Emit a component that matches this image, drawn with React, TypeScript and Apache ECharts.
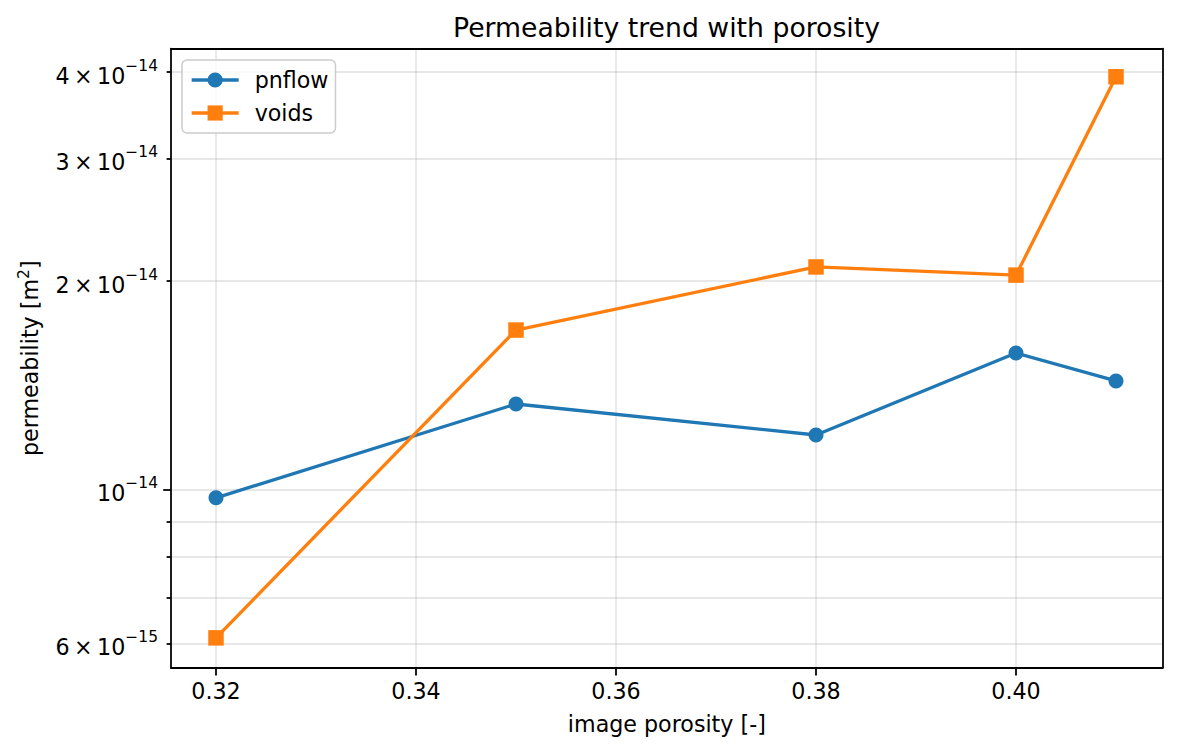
import React, { useEffect, useRef } from "react";
import * as echarts from "echarts";

// ---- data (permeability in m², porosity in [-]) ----
const porosity = [0.32, 0.35, 0.38, 0.4, 0.41];
const pnflow = [9.74e-15, 1.33e-14, 1.2e-14, 1.575e-14, 1.436e-14];
const voids = [6.12e-15, 1.7e-14, 2.096e-14, 2.04e-14, 3.94e-14];

const seriesNames = ["pnflow", "voids"];
const xTicks = [0.32, 0.34, 0.36, 0.38, 0.4];
const yLabelTicks = [6e-15, 1e-14, 2e-14, 3e-14, 4e-14];
const yMajorTicks = [1e-14];
const yMinorTicks = [6e-15, 7e-15, 8e-15, 9e-15, 2e-14, 3e-14, 4e-14];

const titleText = "Permeability trend with porosity";
const xName = "image porosity [-]";

const X_MIN = 0.3155;
const X_MAX = 0.41467;
const Y_MIN = 5.543e-15;
const Y_MAX = 4.325e-14;
const SCALE = 1e-14; // axis works in units of 1e-14 m²

const FONT = "DejaVu Sans";
const FS = 22.2;
const FS_SUP = 15.5;

const s = (v: number) => v / SCALE;

function sciLabel(v: number): string {
  const real = v * SCALE;
  const exp = Math.floor(Math.log10(real) + 1e-9);
  const mant = Math.round(real / Math.pow(10, exp));
  const expStr = "\u2212" + String(-exp);
  if (mant === 1) return `{n|10}{s|${expStr}}`;
  return `{n|${mant}\u2009\u00d7\u200910}{s|${expStr}}`;
}

const richSci = {
  n: { fontSize: FS, fontFamily: FONT, color: "#000", lineHeight: 29, verticalAlign: "bottom" },
  s: { fontSize: FS_SUP, fontFamily: FONT, color: "#000", lineHeight: 16, verticalAlign: "top" },
};

export default function App() {
  const ref = useRef<HTMLDivElement>(null);

  useEffect(() => {
    if (!ref.current) return;
    const chart = echarts.init(ref.current, undefined, { renderer: "svg" });
    const axisLineStyle = { color: "#000", width: 1.78 };
    const gridLine = { show: true, lineStyle: { color: "rgba(176,176,176,0.3)", width: 1.78 } };

    chart.setOption({
      animation: false,
      backgroundColor: "#fff",
      title: {
        text: titleText,
        left: 661.5,
        top: 9,
        textAlign: "center",
        textStyle: { fontFamily: FONT, fontSize: 26.7, fontWeight: "normal", color: "#000" },
      },
      legend: {
        orient: "vertical",
        left: 182,
        top: 60,
        padding: [8, 7, 8, 8],
        itemGap: 9,
        itemWidth: 47,
        itemHeight: 19,
        borderColor: "#cccccc",
        borderWidth: 1.5,
        borderRadius: 5,
        backgroundColor: "rgba(255,255,255,0.8)",
        lineStyle: { width: 3.3 },
        textStyle: { fontFamily: FONT, fontSize: FS, color: "#000", lineHeight: 24, padding: [0, 0, 0, 11] },
        data: seriesNames,
      },
      grid: { left: 171, right: 15.3, top: 48.7, bottom: 86.3, containLabel: false },
      xAxis: [
        {
          type: "value",
          min: X_MIN,
          max: X_MAX,
          name: xName,
          nameLocation: "middle",
          nameGap: 45,
          nameTextStyle: { fontFamily: FONT, fontSize: FS, color: "#000" },
          axisLine: { show: true, lineStyle: axisLineStyle },
          axisTick: { show: true, customValues: xTicks, length: 7.8, lineStyle: axisLineStyle },
          axisLabel: {
            customValues: xTicks,
            margin: 12,
            fontFamily: FONT,
            fontSize: FS,
            color: "#000",
            formatter: (v: number) => v.toFixed(2),
          },
          splitLine: gridLine,
        },
        {
          type: "value",
          position: "top",
          min: X_MIN,
          max: X_MAX,
          axisLine: { show: true, lineStyle: axisLineStyle },
          axisTick: { show: false },
          axisLabel: { show: false },
          splitLine: { show: false },
        },
      ],
      yAxis: [
        {
          type: "log",
          logBase: 10,
          position: "left",
          min: s(Y_MIN),
          max: s(Y_MAX),
          name: "permeability [m{sup|2}]",
          nameLocation: "middle",
          nameGap: 122,
          nameTextStyle: {
            fontFamily: FONT,
            fontSize: FS,
            color: "#000",
            rich: {
              sup: { fontFamily: FONT, fontSize: FS_SUP, color: "#000", verticalAlign: "top", lineHeight: 16 },
            },
            lineHeight: 29,
            verticalAlign: "bottom",
          },
          axisLine: { show: true, lineStyle: axisLineStyle },
          axisTick: { show: true, customValues: yMajorTicks.map(s), length: 7.8, lineStyle: axisLineStyle },
          axisLabel: {
            customValues: yLabelTicks.map(s),
            margin: 13,
            formatter: (v: number) => sciLabel(v),
            rich: richSci,
          },
          splitLine: gridLine,
        },
        {
          type: "log",
          logBase: 10,
          position: "left",
          min: s(Y_MIN),
          max: s(Y_MAX),
          axisLine: { show: false },
          axisTick: { show: true, customValues: yMinorTicks.map(s), length: 4.4, lineStyle: axisLineStyle },
          axisLabel: { show: false },
          splitLine: gridLine,
        },
        {
          type: "log",
          logBase: 10,
          position: "right",
          min: s(Y_MIN),
          max: s(Y_MAX),
          axisLine: { show: true, lineStyle: axisLineStyle },
          axisTick: { show: false },
          axisLabel: { show: false },
          splitLine: { show: false },
        },
      ],
      series: [
        {
          name: seriesNames[0],
          type: "line",
          xAxisIndex: 0,
          yAxisIndex: 0,
          data: porosity.map((x, i) => [x, s(pnflow[i])]),
          symbol: "circle",
          symbolSize: 15,
          color: "#1f77b4",
          lineStyle: { width: 3.3, color: "#1f77b4" },
          itemStyle: { color: "#1f77b4" },
          z: 3,
        },
        {
          name: seriesNames[1],
          type: "line",
          xAxisIndex: 0,
          yAxisIndex: 0,
          data: porosity.map((x, i) => [x, s(voids[i])]),
          symbol: "rect",
          symbolSize: 15.5,
          color: "#ff7f0e",
          lineStyle: { width: 3.3, color: "#ff7f0e" },
          itemStyle: { color: "#ff7f0e" },
          z: 4,
        },
      ],
    });
    return () => chart.dispose();
  }, []);

  return (
    <div
      ref={ref}
      style={{ position: "fixed", left: 0, top: 0, width: 1178, height: 754, background: "#fff" }}
    />
  );
}
